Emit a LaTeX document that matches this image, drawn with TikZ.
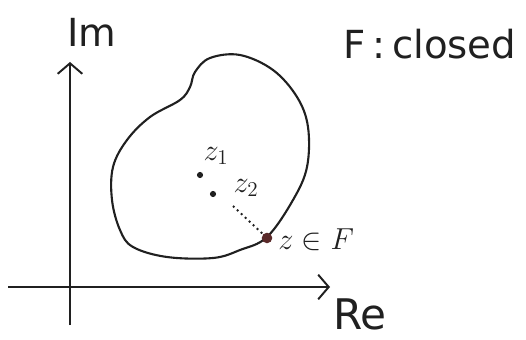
\documentclass[tikz,border=0pt]{standalone}
\usepackage{fontspec}
\setsansfont{DejaVu Sans}
\usetikzlibrary{arrows.meta, positioning, calc}
\definecolor{inkgray}{HTML}{202020}
\definecolor{dotred}{HTML}{5A2A2A}

\begin{document}
\begin{tikzpicture}[x=0.02cm,y=-0.02cm,
    axis/.style={draw=inkgray, line width=1.1pt, -{Straight Barb[length=6pt, width=14pt]}},
    handtext/.style={inner sep=0pt, text=inkgray, font=\sffamily\fontsize{22}{24}\selectfont},
    mathtext/.style={inner sep=0pt, text=inkgray, font=\fontsize{18}{20}\selectfont},
    pointdot/.style={circle, fill=inkgray, inner sep=0pt, minimum size=3.5pt}]
        \useasboundingbox (0,0) rectangle (526,340);
        % axes
        \coordinate (vbot) at (70,325);
        \coordinate (vtop) at (70,62);
        \coordinate (hleft) at (8,287);
        \coordinate (hright) at (330,287);
        \draw[axis] (vbot) -- (vtop);
        \draw[axis] (hleft) -- (hright);
        \node[handtext] (im) at (92,32) {Im};
        \node[handtext, font=\sffamily\fontsize{24}{26}\selectfont] (re) at (360,314) {Re};
        % the closed set F
        \draw[inkgray, line width=1.2pt] plot[smooth cycle, tension=0.6] coordinates {
          (195,72) (210,58) (240,55) (273,70) (297,97) (308,127) (307,167)
          (293,200) (267,237) (240,250) (213,258) (167,257) (133,247)
          (120,230) (112,200) (113,167) (127,140) (150,117) (180,100) (190,87)};
        \node[handtext] (title) at (430,44) {F\,:\,closed};
        % points
        \node[pointdot] (z1) at (200,175) {};
        \node[pointdot] (z2) at (213,194) {};
        \node[pointdot, fill=dotred, minimum size=6pt] (z) at (267,238) {};
        \node[mathtext] (z1lab) at (216,156) {$z_1$};
        \node[mathtext] (z2lab) at (246,188) {$z_2$};
        \node[mathtext, anchor=west] (zlab) at (278,240) {$z\in F$};
        \coordinate (dstart) at (233,206);
        \draw[inkgray, line width=1.1pt, dotted] (dstart) -- (z);
      \end{tikzpicture}
\end{document}
